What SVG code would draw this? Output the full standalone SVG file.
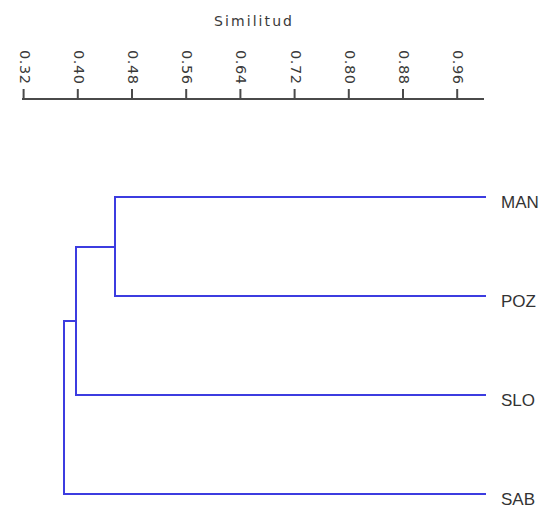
<svg xmlns="http://www.w3.org/2000/svg" width="547" height="508" viewBox="0 0 547 508">
  <style>
    .title { font-family: "DejaVu Sans", "Liberation Sans", sans-serif; font-size: 14px; fill: #3a3a3a; }
    .tick-label { font-family: "DejaVu Sans", "Liberation Sans", sans-serif; font-size: 14.5px; fill: #3a3a3a; }
    .axis { stroke: #4a4a4a; stroke-width: 2; fill: none; }
    .leaf-label { font-family: "Liberation Sans", Arial, sans-serif; font-size: 17px; fill: #333333; }
    .branch { stroke: #3c3ce0; stroke-width: 2; fill: none; stroke-linecap: square; }
  </style>
  <rect width="547" height="508" fill="#ffffff"/>

  <!-- Similarity scale -->
  <g id="axis">
    <text class="title" x="214" y="26" textLength="78" lengthAdjust="spacing">Similitud</text>
    <line class="axis" x1="22" y1="99" x2="484" y2="99"/>
    <g class="axis">
      <line x1="23.6" y1="89" x2="23.6" y2="99"/>
      <line x1="77.8" y1="89" x2="77.8" y2="99"/>
      <line x1="132" y1="89" x2="132" y2="99"/>
      <line x1="186.2" y1="89" x2="186.2" y2="99"/>
      <line x1="240.4" y1="89" x2="240.4" y2="99"/>
      <line x1="294.6" y1="89" x2="294.6" y2="99"/>
      <line x1="348.8" y1="89" x2="348.8" y2="99"/>
      <line x1="403" y1="89" x2="403" y2="99"/>
      <line x1="457.2" y1="89" x2="457.2" y2="99"/>
    </g>
    <text class="tick-label" transform="translate(19.6,50) rotate(90)" textLength="34" lengthAdjust="spacing">0.32</text>
    <text class="tick-label" transform="translate(73.8,50) rotate(90)" textLength="34" lengthAdjust="spacing">0.40</text>
    <text class="tick-label" transform="translate(128,50) rotate(90)" textLength="34" lengthAdjust="spacing">0.48</text>
    <text class="tick-label" transform="translate(182.2,50) rotate(90)" textLength="34" lengthAdjust="spacing">0.56</text>
    <text class="tick-label" transform="translate(236.4,50) rotate(90)" textLength="34" lengthAdjust="spacing">0.64</text>
    <text class="tick-label" transform="translate(290.6,50) rotate(90)" textLength="34" lengthAdjust="spacing">0.72</text>
    <text class="tick-label" transform="translate(344.8,50) rotate(90)" textLength="34" lengthAdjust="spacing">0.80</text>
    <text class="tick-label" transform="translate(399,50) rotate(90)" textLength="34" lengthAdjust="spacing">0.88</text>
    <text class="tick-label" transform="translate(453.2,50) rotate(90)" textLength="34" lengthAdjust="spacing">0.96</text>
  </g>

  <!-- Leaves -->
  <g id="leaf-MAN"><text class="leaf-label" x="501" y="208">MAN</text></g>
  <g id="leaf-POZ"><text class="leaf-label" x="501" y="307">POZ</text></g>
  <g id="leaf-SLO"><text class="leaf-label" x="501" y="406">SLO</text></g>
  <g id="leaf-SAB"><text class="leaf-label" x="501" y="505">SAB</text></g>

  <!-- Dendrogram branches -->
  <g id="connectors" class="branch">
    <path d="M485,197 H115 V296 H485"/>
    <path d="M115,247 H76 V395 H485"/>
    <path d="M76,321 H64 V494 H485"/>
  </g>
</svg>
